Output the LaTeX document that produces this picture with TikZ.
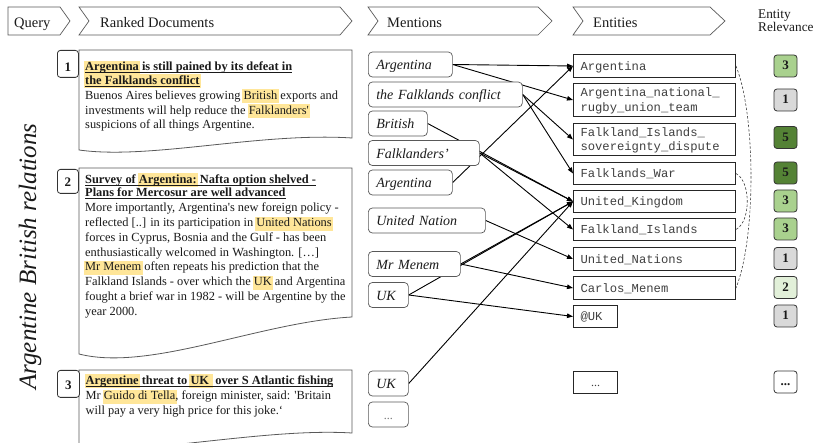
\documentclass[tikz,border=0pt]{standalone}
\usepackage{fontspec}
\setmainfont{Liberation Serif}
\setmonofont{Liberation Mono}
\usetikzlibrary{arrows.meta,backgrounds}
\definecolor{hly}{HTML}{FFE699}
\definecolor{rone}{HTML}{D9D9D9}
\definecolor{rtwo}{HTML}{E2F0D9}
\definecolor{rthree}{HTML}{A9D18E}
\definecolor{rfive}{HTML}{548235}
\definecolor{txt}{HTML}{1A1A1A}
\definecolor{etxt}{HTML}{404040}
\definecolor{frame}{HTML}{595959}
\newcommand\hlt[1]{{\setlength{\fboxsep}{0pt}\kern-1.2pt\smash{\colorbox{hly}{\rule[-4pt]{0pt}{14pt}\kern1.2pt#1\kern1.2pt}}\kern-1.2pt}}
\newcommand\ulin[1]{{\setbox0\hbox{#1}\copy0\llap{\rule[-2.1pt]{\wd0}{0.75pt}}}}
\newcommand\docfont{\fontsize{12.4}{14.6}\selectfont}
\begin{document}
\begin{tikzpicture}[x=1pt,y=-1pt,
  hdr/.style={draw=frame, line width=0.7pt},
  hdrtxt/.style={anchor=base west, inner sep=0pt, font=\fontsize{14.5}{16}\selectfont, text=txt},
  dshape/.style={draw=frame, line width=0.8pt, fill=white},
  numbox/.style={draw=black!80, line width=0.8pt, rounded corners=3pt, fill=white, minimum width=21pt, inner sep=0pt, text depth=0pt, font=\bfseries\fontsize{13}{15}\selectfont, anchor=north west, text=txt},
  dtxt/.style={anchor=base west, inner sep=0pt, font=\docfont, text=txt},
  mbox/.style={draw=frame, line width=0.7pt, rounded corners=4pt, fill=white, anchor=west, inner xsep=8pt, inner ysep=0pt, minimum height=25pt, align=left, text height=12pt, text depth=1pt, font=\itshape\fontsize{14}{16}\selectfont, text=txt},
  ebox/.style={draw=black!85, line width=1pt, fill=white, anchor=north west, inner xsep=7pt, inner ysep=0pt, minimum width=162pt, text width=148pt, align=left, font=\ttfamily\fontsize{12.2}{14.5}\selectfont, text=etxt},
  esingle/.style={text height=10pt, text depth=1pt},
  edouble/.style={text height=10pt, text depth=16pt},
  rbox/.style={draw=black!80, line width=0.8pt, rounded corners=3pt, minimum width=23pt, minimum height=22pt, inner sep=0pt, text height=8pt, text depth=0pt, font=\bfseries\fontsize{13}{15}\selectfont, text=txt},
  conn/.style={line width=0.9pt, -{Triangle[length=6pt,width=4.5pt]}},
  dashc/.style={line width=0.6pt, dash pattern=on 2.5pt off 1.8pt, draw=black!75}]
\useasboundingbox (0,0) rectangle (820,443);

% headers
\draw[hdr] (8,7) -- (60,7) -- (70,21) -- (60,35) -- (8,35) -- cycle;
\draw[hdr] (79,7) -- (340,7) -- (352,21) -- (340,35) -- (79,35) -- (89,21) -- cycle;
\draw[hdr] (368,7) -- (538,7) -- (552,21) -- (538,35) -- (368,35) -- (378,21) -- cycle;
\draw[hdr] (573,7) -- (710,7) -- (725,21) -- (710,35) -- (573,35) -- (583,21) -- cycle;
\node[hdrtxt] (hq) at (14,27.3) {Query};
\node[hdrtxt] (hd) at (100,27.3) {Ranked Documents};
\node[hdrtxt] (hm) at (387,27.5) {Mentions};
\node[hdrtxt] (he) at (593,27.5) {Entities};
\node[hdrtxt, font=\fontsize{13.3}{15}\selectfont] (hr1) at (758,18.3) {Entity};
\node[hdrtxt, font=\fontsize{13.3}{15}\selectfont] (hr2) at (758,31.7) {Relevance};

% query
\node[rotate=90, inner sep=0pt, font=\itshape\fontsize{25}{30}\selectfont, text=txt] (query) at (30,256.5) {Argentine British relations};

% documents
\draw[dshape] (79,50) -- (352,50) -- (352,138) .. controls (260,132) and (150,160) .. (79,150) -- cycle;
\draw[dshape] (79,168) -- (352,168) -- (352,317) .. controls (260,322) and (150,372) .. (79,354) -- cycle;
\draw[dshape] (79,370) -- (352,370) -- (352,433) .. controls (270,428) and (160,452) .. (79,450) -- cycle;
\node[numbox, minimum height=27pt, text height=15pt] (n1) at (57,50) {1};
\node[numbox, minimum height=24pt, text height=10pt] (n2) at (57,169) {2};
\node[numbox, minimum width=22pt, minimum height=27pt, text height=11pt] (n3) at (57,370) {3};

\node[dtxt] (d1a) at (85,71) {\ulin{\bfseries\hlt{Argentina} is still pained by its defeat in}};
\node[dtxt] (d1b) at (85,84.5) {\ulin{\bfseries\hlt{the Falklands conflict}}};
\node[dtxt] (d1c) at (85,99.5) {Buenos Aires believes growing \hlt{British} exports and};
\node[dtxt] (d1d) at (85,114.5) {investments will help reduce the \hlt{Falklanders\textquotesingle}};
\node[dtxt] (d1e) at (85,129) {suspicions of all things Argentine.};

\node[dtxt] (d2a) at (85,183.5) {\ulin{\bfseries Survey of \hlt{Argentina:} Nafta option shelved -}};
\node[dtxt] (d2b) at (85,196.5) {\ulin{\bfseries Plans for Mercosur are well advanced}};
\node[dtxt] (d2c) at (85,212) {More importantly, Argentina\textquotesingle s new foreign policy -};
\node[dtxt] (d2d) at (85,226.8) {reflected [..] in its participation in \hlt{United Nations}};
\node[dtxt] (d2e) at (85,241.5) {forces in Cyprus, Bosnia and the Gulf - has been};
\node[dtxt] (d2f) at (85,256.3) {enthusiastically welcomed in Washington. […]};
\node[dtxt] (d2g) at (85,271) {\hlt{Mr Menem} often repeats his prediction that the};
\node[dtxt] (d2h) at (85,285.8) {Falkland Islands - over which the \hlt{UK} and Argentina};
\node[dtxt] (d2i) at (85,300.5) {fought a brief war in 1982 - will be Argentine by the};
\node[dtxt] (d2j) at (85,315.3) {year 2000.};

\node[dtxt] (d3a) at (85.5,384.3) {\ulin{\bfseries\hlt{Argentine} threat to \hlt{UK\ }\ over S Atlantic fishing}};
\node[dtxt] (d3b) at (85.5,400) {Mr \hlt{Guido di Tella}, foreign minister, said: \textquotesingle Britain};
\node[dtxt] (d3c) at (85.5,415) {will pay a very high price for this joke.‘};

% mentions
\node[mbox, text width=68pt] (m1) at (368,64.5) {Argentina};
\node[mbox, text width=138pt] (m2) at (368,94.5) {the Falklands conflict};
\node[mbox, text width=43pt] (m3) at (368,123.5) {British};
\node[mbox, text width=95pt] (m4) at (368,153) {Falklanders’};
\node[mbox, text width=68pt] (m5) at (368,182.5) {Argentina};
\node[mbox, text width=101pt] (m6) at (368,220.5) {United Nation};
\node[mbox, text width=76pt] (m7) at (368,264) {Mr Menem};
\node[mbox, text width=24pt] (m8) at (368,295) {UK};
\node[mbox, text width=24pt] (m9) at (368,383.5) {UK};
\node[mbox, text width=24pt, align=center, font=\fontsize{12}{14}\selectfont, text=black!55] (m10) at (368,414.5) {...};

% entities
\node[ebox, esingle, minimum height=23pt] (e1) at (573,54) {Argentina};
\node[ebox, edouble, minimum height=33pt] (e2) at (573,83) {Argentina\_national\_\\rugby\_union\_team};
\node[ebox, edouble, minimum height=32pt] (e3) at (573,123) {Falkland\_Islands\_\\sovereignty\_dispute};
\node[ebox, esingle, minimum height=22pt] (e4) at (573,162) {Falklands\_War};
\node[ebox, esingle, minimum height=22pt] (e5) at (573,190) {United\_Kingdom};
\node[ebox, esingle, minimum height=22pt] (e6) at (573,218) {Falkland\_Islands};
\node[ebox, esingle, minimum height=23pt] (e7) at (573,247) {United\_Nations};
\node[ebox, esingle, minimum height=23pt] (e8) at (573,276) {Carlos\_Menem};
\node[ebox, esingle, minimum height=22pt, minimum width=44pt, text width=30pt] (e9) at (573,305) {@UK};
\node[ebox, esingle, minimum height=22pt, minimum width=44pt, text width=30pt, align=center, font=\fontsize{12}{14}\selectfont] (e10) at (573,371) {...};

% relevance
\node[rbox, fill=rthree] (r1) at (785.5,66) {3};
\node[rbox, fill=rone] (r2) at (785.5,100) {1};
\node[rbox, fill=rfive] (r3) at (785.5,137.5) {5};
\node[rbox, fill=rfive] (r4) at (785.5,173) {5};
\node[rbox, fill=rthree] (r5) at (785.5,201) {3};
\node[rbox, fill=rthree] (r6) at (785.5,229) {3};
\node[rbox, fill=rone] (r7) at (785.5,258.5) {1};
\node[rbox, fill=rtwo] (r8) at (785.5,287.5) {2};
\node[rbox, fill=rone] (r9) at (785.5,316) {1};
\node[rbox, fill=white] (r10) at (785.5,382) {...};

% connectors
\begin{pgfonlayer}{background}
\draw[conn] (m1.east) -- (e1.west);
\draw[conn] (m1.east) -- (e2.west);
\draw[conn] (m2.east) -- (e3.west);
\draw[conn] (m2.east) -- (e4.west);
\draw[conn] (m3.east) -- (e5.west);
\draw[conn] (m4.east) -- (e5.west);
\draw[conn] (m4.east) -- (e6.west);
\draw[conn] (m5.east) -- (e1.west);
\draw[conn] (m6.east) -- (e7.west);
\draw[conn] (m7.east) -- (e5.west);
\draw[conn] (m7.east) -- (e8.west);
\draw[conn] (m8.east) -- (e5.west);
\draw[conn] (m8.east) -- (e9.west);
\draw[conn] (m9.east) -- (e5.west);
\end{pgfonlayer}
\draw[dashc] (e1.east) .. controls +(20,50) and +(20,-50) .. (e8.east);
\draw[dashc] (e4.east) .. controls +(15,8) and +(15,-8) .. (e6.east);
\end{tikzpicture}
\end{document}
